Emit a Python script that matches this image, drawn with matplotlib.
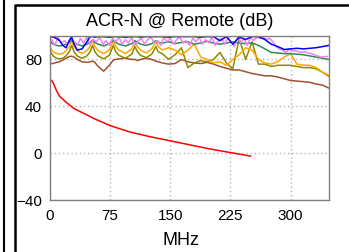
import matplotlib
matplotlib.use("Agg")
import matplotlib.pyplot as plt
from matplotlib.lines import Line2D

plt.rcParams['font.family'] = ['Liberation Sans', 'DejaVu Sans']

# frequency grid (MHz) shared by most of the measured pairs
freq = [1, 4, 8, 12, 16, 20, 24, 27, 30, 34,
        40, 46, 50, 53, 56, 60, 67, 74, 79, 82,
        86, 94, 102, 106, 109, 113, 120, 127, 132, 135,
        140, 148, 156, 164, 172, 180, 188, 196, 204, 212,
        220, 228, 236, 244, 252, 260, 268, 276, 284, 292,
        300, 308, 316, 324, 332, 340, 348]

blue = [99.5, 99, 98, 96, 92, 90, 96, 99, 93, 88,
        89, 95, 99.5, 99.5, 99, 99.5, 99.5, 99, 99.5, 99.5,
        99.5, 99, 99.5, 99.5, 99.5, 99, 99.5, 99.5, 99.5, 99.5,
        99.5, 99, 99.5, 99.5, 99.5, 99.5, 99, 99.5, 99.5, 96,
        99.5, 93, 99, 97, 99.5, 99.5, 97, 93, 91, 88.5,
        89, 89.5, 89, 89.5, 90, 91, 92]

green = [95, 93, 92, 91.5, 92, 93, 94.5, 96.5, 94.5, 93,
         91.5, 93, 94.5, 96.5, 94.5, 93, 91.5, 93.5, 96.5, 94.5,
         93, 91.5, 93.5, 96, 94.5, 93, 92, 93.5, 96, 94.5,
         94, 95, 93.5, 94.5, 95, 93, 94, 95.5, 94, 93,
         94, 95, 94, 93.5, 94, 92, 89, 86, 85.5, 85,
         85, 84.5, 84, 83, 82, 81, 80]

orange = [89, 86.5, 85, 84.5, 85, 87.5, 91, 96, 91, 87.5,
          85, 87.5, 91, 96, 91, 87.5, 85, 88, 96, 91,
          88, 85, 89, 95, 91, 88, 85.5, 89, 95, 91,
          88, 90, 88, 84, 88, 93, 82, 80, 77, 78,
          75, 80, 84, 90, 88, 80, 77, 76, 78, 82,
          85, 76, 75, 75, 73, 69, 66.5]

olive = [86, 83, 81, 80.5, 81, 83, 86.5, 92, 86.5, 83,
         81, 83, 86.5, 92, 86.5, 83, 80.5, 83.5, 92, 86.5,
         83.5, 81, 84.5, 91, 86.5, 83.5, 81.5, 84.5, 91, 86.5,
         85, 80, 84, 90, 73, 77, 79, 78, 80, 86,
         77, 72, 98, 80, 95, 76, 76, 74, 75, 75,
         75, 74, 73, 73, 72, 69, 65.5]

brown = [76.5, 76.5, 77.5, 78, 79.5, 81, 82.5, 82.8, 82, 80,
         78, 77.5, 78, 78.5, 77.5, 74, 70, 75, 79.5, 80,
         80.5, 81, 80, 80, 79, 80, 81, 80, 78.5, 78,
         77, 76, 76.5, 80, 78, 77, 76.5, 77.5, 76, 74,
         72.5, 71, 71, 69.5, 68, 67, 66, 66, 65, 63.5,
         62, 61.5, 61, 60.5, 59, 58, 55.5]

# the violet pair is much noisier, so it has its own finer grid
violet_freq = [2, 6, 10, 14, 18, 22, 26, 30, 34, 38, 42, 46, 50, 54, 58,
               62, 66, 70, 74, 78, 82, 86, 90, 94, 98, 102, 106, 110, 114, 118,
               122, 126, 130, 134, 138, 142, 146, 150, 154, 158, 162, 166, 170, 174, 178,
               182, 186, 190, 194, 198, 202, 206, 210, 214, 218, 222, 226, 230, 234, 238,
               242, 246, 250, 254, 258, 262, 266, 270, 274, 278, 282, 286, 290, 294, 298,
               302, 306, 310, 314, 318, 322, 326, 330, 334, 338, 342, 346]
violet = [97, 92, 99, 94, 96, 93, 99, 95, 92, 98, 94, 99, 93, 97, 95,
          99, 93, 96, 92, 98, 95, 99, 93, 97, 94, 99, 92, 96, 98, 93,
          97, 99, 94, 96, 92, 99, 95, 98, 93, 97, 99, 94, 96, 92, 98,
          95, 99, 93, 97, 94, 99, 92, 96, 98, 93, 99, 95, 91, 99, 94,
          98, 92, 99, 96, 99, 98, 99, 97, 98, 95, 91, 89, 88, 86, 89,
          87, 87.5, 86.5, 86, 86.5, 85.5, 85, 84, 83, 82, 82.5, 82.5]

# limit line
limit_freq = [2, 4, 8, 12, 20, 30, 42, 55, 75, 100, 125, 150, 175, 200, 225, 250]
limit_db = [62, 60, 53.5, 48.5, 43.5, 38, 34, 29.5, 23.5, 18, 14, 10.5, 7, 3.5, 0.5, -2.5]

x_ticks = [0, 75, 150, 225, 300]
y_ticks = [-40, 0, 40, 80]

W, H = 349, 252
fig = plt.figure(figsize=(W / 100, H / 100), dpi=100)
ax = fig.add_axes([50 / W, 52 / H, 279 / W, 164 / H])

ax.plot(freq, brown, color='#a0522d', lw=1.1)
ax.plot(freq, olive, color='#8b8b00', lw=1.1)
ax.plot(freq, orange, color='#ffa500', lw=1.1)
ax.plot(freq, green, color='#2e8b57', lw=1.1)
ax.plot(violet_freq, violet, color='#ee82ee', lw=1.1)
ax.plot(freq, blue, color='#0000ff', lw=1.1)
ax.plot(limit_freq, limit_db, color='#ff0000', lw=1.1)

ax.set_xlim(0, 348)
ax.set_ylim(-40, 100)
ax.set_xticks(x_ticks)
ax.set_yticks(y_ticks)
ax.grid(True, color='#b4b4b4', linestyle=(0, (1, 2)), lw=1.0)
ax.tick_params(length=0, labelsize=11, colors='black')
ax.tick_params(axis='x', pad=6.5)
ax.tick_params(axis='y', pad=5.8)
for sp in ax.spines.values():
    sp.set_color('#808080')
    sp.set_linewidth(1.0)

fig.text(180 / W, 1 - 26 / H, 'ACR-N @ Remote (dB)', ha='center',
         va='baseline', fontsize=13)
fig.text(181 / W, 1 - 245 / H, 'MHz', ha='center', va='baseline', fontsize=13)

# panel frames
fig.add_artist(Line2D([4.3 / W, 4.3 / W], [0, 1], color='black', lw=1.5,
                      transform=fig.transFigure))
fig.add_artist(Line2D([14.7 / W, 14.7 / W, 1.01], [-0.01, 1 - 4.7 / H, 1 - 4.7 / H],
                      color='black', lw=1.8, transform=fig.transFigure))

fig.savefig('out.png', dpi=100)
